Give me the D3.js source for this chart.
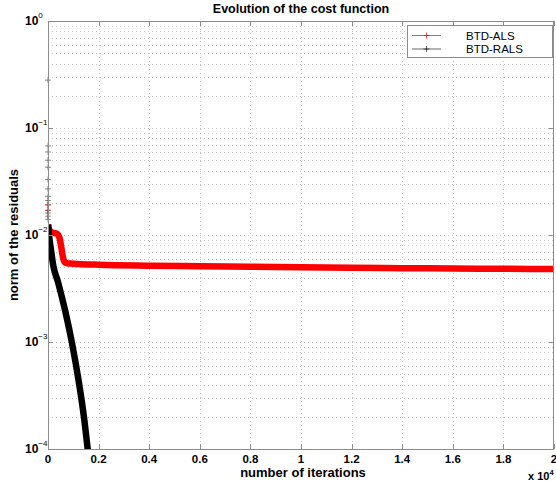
<!DOCTYPE html>
<html>
<head>
<meta charset="utf-8">
<script src="https://cdn.jsdelivr.net/npm/d3@7"></script>
<style>
  html, body { margin: 0; padding: 0; background: #fff; }
  svg { display: block; font-family: "Liberation Sans", Arial, Helvetica, sans-serif; }
</style>
</head>
<body>
<svg id="chart" width="556" height="487"></svg>
<script>
// Iteration counts and residual norms for the two algorithms
const alsIter  = [0, 50, 150, 350, 450, 520, 580, 650, 750, 1000, 2000, 4000, 6000, 8000, 10000, 12000, 14000, 16000, 18000, 20000];
const alsRes   = [0.0125, 0.0112, 0.0106, 0.0103, 0.0095, 0.0078, 0.0064, 0.0056, 0.00545, 0.0054, 0.00528, 0.00517, 0.0051, 0.00505, 0.0050, 0.00495, 0.0049, 0.00487, 0.00483, 0.0048];
const ralsIter = [0, 50, 120, 200, 400, 670, 940, 1225, 1420, 1570, 1650];
const ralsRes  = [0.0125, 0.0095, 0.0072, 0.0053, 0.0036, 0.0020, 0.0010, 0.000414, 0.0002, 0.0001, 0.00007];
// first iterations, scattered high values
const alsEarly  = [0.0597, 0.0193, 0.017];
const ralsEarly = [0.28, 0.068, 0.05, 0.043, 0.033, 0.027, 0.023, 0.021, 0.019, 0.017, 0.016, 0.015, 0.014];

const xTicks = [0, 2000, 4000, 6000, 8000, 10000, 12000, 14000, 16000, 18000, 20000];
const xTickLabels = ["0", "0.2", "0.4", "0.6", "0.8", "1", "1.2", "1.4", "1.6", "1.8", "2"];
const yExponents = [0, -1, -2, -3, -4];
const seriesNames = ["BTD-ALS", "BTD-RALS"];
const seriesColors = ["#ff0000", "#000000"];

const svg = d3.select("#chart");
const box = { left: 48, right: 554, top: 21, bottom: 449 };

const x = d3.scaleLinear().domain([0, 20000]).range([box.left, box.right]);
const y = d3.scaleLog().domain([1e-4, 1]).range([box.bottom, box.top]);

svg.append("rect").attr("width", 556).attr("height", 487).attr("fill", "#fff");

// grid
const grid = svg.append("g").attr("stroke", "#c4c4c4").attr("stroke-width", 1)
  .attr("stroke-dasharray", "1,3").attr("shape-rendering", "crispEdges");
xTicks.slice(1, -1).forEach(t => {
  grid.append("line").attr("x1", Math.round(x(t)) + 0.5).attr("x2", Math.round(x(t)) + 0.5)
    .attr("y1", box.top).attr("y2", box.bottom);
});
const yGridVals = [];
for (let e = -4; e < 0; e++) for (let m = 1; m <= 9; m++) yGridVals.push(m * Math.pow(10, e));
yGridVals.slice(1).forEach(v => {
  grid.append("line").attr("x1", box.left).attr("x2", box.right)
    .attr("y1", Math.round(y(v)) + 0.5).attr("y2", Math.round(y(v)) + 0.5);
});

// clip
svg.append("clipPath").attr("id", "plotclip").append("rect")
  .attr("x", box.left).attr("y", box.top).attr("width", box.right - box.left).attr("height", box.bottom - box.top);

const line = d3.line().x(d => x(d[0])).y(d => y(d[1])).curve(d3.curveMonotoneX);
const plot = svg.append("g").attr("clip-path", "url(#plotclip)");

const alsData = alsIter.map((t, i) => [t, alsRes[i]]);
const ralsData = ralsIter.map((t, i) => [t, ralsRes[i]]);

plot.append("path").datum(alsData).attr("d", line).attr("fill", "none")
  .attr("stroke", seriesColors[0]).attr("stroke-width", 6.5).attr("stroke-linejoin", "round");
plot.append("path").datum(ralsData).attr("d", line).attr("fill", "none")
  .attr("stroke", seriesColors[1]).attr("stroke-width", 6.5).attr("stroke-linejoin", "round");

// '+' markers of the first iterations
function plus(g, cx, cy, color, size, op) {
  g.append("line").attr("x1", cx - size).attr("x2", cx + size).attr("y1", cy).attr("y2", cy)
    .attr("stroke", color).attr("stroke-width", 1).attr("opacity", op);
  g.append("line").attr("x1", cx).attr("x2", cx).attr("y1", cy - size).attr("y2", cy + size)
    .attr("stroke", color).attr("stroke-width", 1).attr("opacity", op);
}
const early = svg.append("g");
ralsEarly.forEach(v => plus(early, x(0), y(v), "#000", 3, 0.45));
alsEarly.forEach(v => plus(early, x(0), y(v), "#ff0000", 3, 0.6));

// box and ticks
svg.append("rect").attr("x", box.left + 0.5).attr("y", box.top + 0.5).attr("width", box.right - box.left - 1)
  .attr("height", box.bottom - box.top).attr("fill", "none").attr("stroke", "#8c8c8c").attr("stroke-width", 1);
const ticks = svg.append("g").attr("stroke", "#8c8c8c").attr("stroke-width", 1).attr("shape-rendering", "crispEdges");
xTicks.forEach(t => {
  const px = Math.round(x(t)) + 0.5;
  ticks.append("line").attr("x1", px).attr("x2", px).attr("y1", box.bottom).attr("y2", box.bottom - 5);
  ticks.append("line").attr("x1", px).attr("x2", px).attr("y1", box.top).attr("y2", box.top + 5);
});
yExponents.forEach(e => {
  const py = Math.round(y(Math.pow(10, e))) + 0.5;
  ticks.append("line").attr("x1", box.left).attr("x2", box.left + 5).attr("y1", py).attr("y2", py);
  ticks.append("line").attr("x1", box.right - 5).attr("x2", box.right).attr("y1", py).attr("y2", py);
});

// x tick labels
const xl = svg.append("g").attr("font-size", 11.5).attr("font-weight", "bold").attr("fill", "#000");
xTicks.forEach((t, i) => {
  xl.append("text").attr("x", x(t)).attr("y", 463).attr("text-anchor", "middle").text(xTickLabels[i]);
});
const mult = svg.append("text").attr("x", 528).attr("y", 480).attr("font-size", 11).attr("font-weight", "bold");
mult.append("tspan").text("x 10");
mult.append("tspan").attr("dy", -5).attr("font-size", 7.5).text("4");

// y tick labels
yExponents.forEach(e => {
  const py = y(Math.pow(10, e));
  const t = svg.append("text").attr("x", 25).attr("y", py + 4).attr("font-size", 12).attr("font-weight", "bold");
  t.append("tspan").text("10");
  t.append("tspan").attr("dy", -7).attr("font-size", 8).attr("font-weight", "normal")
    .text(e === 0 ? "0" : "\u2212" + (-e));
});

// titles
svg.append("text").attr("x", 301).attr("y", 13).attr("text-anchor", "middle")
  .attr("font-size", 12.5).attr("font-weight", "bold").text("Evolution of the cost function");
svg.append("text").attr("x", 303).attr("y", 477).attr("text-anchor", "middle")
  .attr("font-size", 13).attr("font-weight", "bold").text("number of iterations");
svg.append("text").attr("transform", "translate(18,235) rotate(-90)").attr("text-anchor", "middle")
  .attr("font-size", 13).attr("font-weight", "bold").text("norm of the residuals");

// legend
const lg = svg.append("g");
lg.append("rect").attr("x", 407.5).attr("y", 25.5).attr("width", 145).attr("height", 32)
  .attr("fill", "#fff").attr("stroke", "#8c8c8c").attr("stroke-width", 1);
seriesNames.forEach((name, i) => {
  const ly = 35.5 + i * 13.5;
  lg.append("line").attr("x1", 412).attr("x2", 441).attr("y1", ly).attr("y2", ly)
    .attr("stroke", seriesColors[i]).attr("stroke-width", 1).attr("opacity", i === 0 ? 0.7 : 0.6);
  plus(lg, 426.5, ly, seriesColors[i], 3, i === 0 ? 0.7 : 0.6);
  lg.append("text").attr("x", 466).attr("y", ly + 4).attr("font-size", 11.5).text(name);
});
</script>
</body>
</html>
